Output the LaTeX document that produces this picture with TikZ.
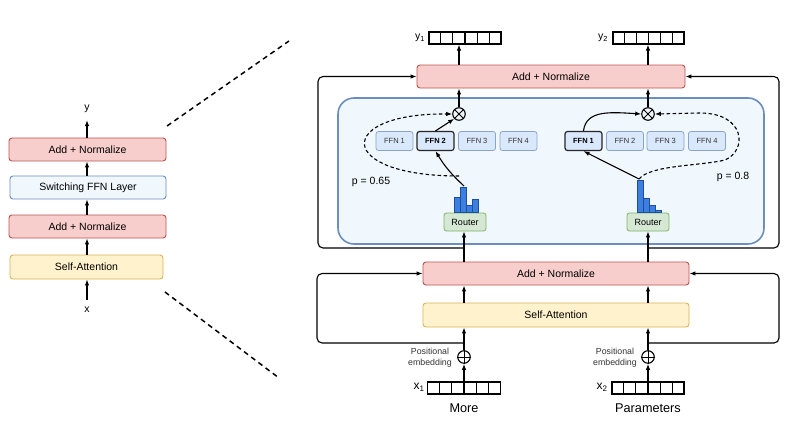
\documentclass[tikz,border=0pt]{standalone}
\usepackage{fontspec}
\setmainfont{Liberation Sans}
\usetikzlibrary{arrows.meta,calc}
\definecolor{redf}{HTML}{F8CECC}\definecolor{redb}{HTML}{B85450}
\definecolor{yelf}{HTML}{FFF2CC}\definecolor{yelb}{HTML}{D6B656}
\definecolor{bluf}{HTML}{DAE8FC}\definecolor{blub}{HTML}{6C8EBF}
\definecolor{grnf}{HTML}{D5E8D4}\definecolor{grnb}{HTML}{82B366}
\definecolor{contf}{HTML}{F0F7FD}\definecolor{barf}{HTML}{3D7FE0}\definecolor{barb}{HTML}{1E4F9C}
\tikzset{
  base/.style={rounded corners=3pt, inner sep=0pt, line width=0.9pt, font=\fontsize{10.5}{12}\selectfont},
  anbox/.style={base, fill=redf, draw=redb},
  sabox/.style={base, fill=yelf, draw=yelb},
  swbox/.style={base, fill=contf, draw=blub},
  ffnbox/.style={rounded corners=2.5pt, inner sep=0pt, line width=0.8pt, fill=bluf, draw=blub!80, minimum width=37, minimum height=19, font=\fontsize{7.5}{9}\selectfont\color{black!80}},
  ffnsel/.style={ffnbox, draw=black!85, line width=1.2pt, font=\fontsize{7.5}{9}\selectfont\bfseries},
  router/.style={rounded corners=2.5pt, inner sep=0pt, line width=0.8pt, fill=grnf, draw=grnb, minimum width=42, minimum height=18, font=\fontsize{9}{10}\selectfont},
  vecbox/.style={draw=black, line width=1.1pt, inner sep=0pt, minimum height=12},
  conn/.style={line width=1.1pt, -{Latex[length=6pt,width=4.5pt]}},
  line/.style={line width=1.1pt, rounded corners=5pt},
  dconn/.style={conn, dashed, dash pattern=on 3.5pt off 2.5pt},
  opc/.style={circle, draw, line width=1.1pt, minimum size=12.5, inner sep=0pt},
  lbl/.style={inner sep=0pt, font=\fontsize{10.5}{12}\selectfont},
}
\newcommand{\cells}[1]{\foreach \i in {1,...,5}{\draw[line width=1.1pt] ($(#1.north west)!\i/6!(#1.north east)$) -- ($(#1.south west)!\i/6!(#1.south east)$);}}
\newcommand{\otimesmark}[1]{\draw[line width=1pt] (#1.north west) -- (#1.south east) (#1.north east) -- (#1.south west);}
\newcommand{\oplusmark}[1]{\draw[line width=1pt] (#1.north) -- (#1.south) (#1.west) -- (#1.east);}
\begin{document}
\begin{tikzpicture}[x=1pt,y=-1pt]
\useasboundingbox (0,0) rectangle (800,431);
% ---------- left stack ----------
\node[anbox, minimum width=157, minimum height=23] (lan2) at (87.5,149.5) {Add + Normalize};
\node[swbox, minimum width=156, minimum height=23] (lsw) at (88,187.5) {Switching FFN Layer};
\node[anbox, minimum width=157, minimum height=23] (lan1) at (87.5,226.5) {Add + Normalize};
\node[sabox, minimum width=153, minimum height=24] (lsa) at (86.5,267) {Self-Attention};
\node[lbl] (ly) at (87,109) {y};
\node[lbl] (lx) at (87,310) {x};
\draw[conn] (lan2.north -| ly) -- ([yshift=-7pt]ly.south);
\draw[conn] (lsw.north -| ly) -- (lan2.south -| ly);
\draw[conn] (lan1.north -| ly) -- (lsw.south -| ly);
\draw[conn] (lsa.north -| ly) -- (lan1.south -| ly);
\draw[conn] ([yshift=7pt]lx.north) -- (lsa.south -| lx);
% zoom lines
\coordinate (z1a) at (167,126); \coordinate (z1b) at (289,41);
\coordinate (z2a) at (165,292); \coordinate (z2b) at (279,378);
\draw[line width=1.5pt, dash pattern=on 5pt off 4pt] (z1a) -- (z1b);
\draw[line width=1.5pt, dash pattern=on 5pt off 4pt] (z2a) -- (z2b);
% ---------- right ----------
\node[base, fill=contf, draw=blub, line width=1.6pt, rounded corners=16pt, minimum width=426, minimum height=146] (cont) at (551,171) {};
\node[anbox, minimum width=268, minimum height=23] (tan) at (551,76.5) {Add + Normalize};
\node[anbox, minimum width=266, minimum height=23] (ban) at (556,273.5) {Add + Normalize};
\node[sabox, minimum width=266, minimum height=24] (sa) at (556,315) {Self-Attention};
% output vectors
\node[vecbox, minimum width=72] (y1v) at (465,38) {}; \cells{y1v}
\node[vecbox, minimum width=71] (y2v) at (648.5,38) {}; \cells{y2v}
\node[lbl] (y1l) at (420,38) {y\textsubscript{1}};
\node[lbl] (y2l) at (603,38) {y\textsubscript{2}};
% input vectors
\node[vecbox, minimum width=73] (x1v) at (464,388) {}; \cells{x1v}
\node[vecbox, minimum width=72] (x2v) at (648,388) {}; \cells{x2v}
\node[inner sep=0pt, font=\fontsize{12}{14}\selectfont] (x1l) at (419,387) {x\textsubscript{1}};
\node[inner sep=0pt, font=\fontsize{12}{14}\selectfont] (x2l) at (602,387) {x\textsubscript{2}};
\node[inner sep=0pt, font=\fontsize{12.7}{14}\selectfont] (w1) at (464,408) {More};
\node[inner sep=0pt, font=\fontsize{12.7}{14}\selectfont] (w2) at (648,408) {Parameters};
% positional embedding
\node[opc] (p1) at (464,357) {}; \oplusmark{p1}
\node[opc] (p2) at (648,357) {}; \oplusmark{p2}
\node[inner sep=0pt, align=center, font=\fontsize{8.8}{11}\selectfont\color{black!80}] (pe1) at (430,358) {Positional\\embedding};
\node[inner sep=0pt, align=center, font=\fontsize{8.8}{11}\selectfont\color{black!80}] (pe2) at (615,358) {Positional\\embedding};
\draw[conn] (x1v.north -| p1) -- (p1.south);
\draw[conn] (x2v.north -| p2) -- (p2.south);
\draw[conn] (p1.north) -- (sa.south -| p1);
\draw[conn] (p2.north) -- (sa.south -| p2);
\draw[conn] (sa.north -| p1) -- (ban.south -| p1);
\draw[conn] (sa.north -| p2) -- (ban.south -| p2);
% residuals bottom
\coordinate (rb1) at (464,343); \coordinate (rb2) at (648,343);
\draw[line, -{Latex[length=6pt,width=4.5pt]}] (rb1) -- (317,343) -- (317,273.5) -- (ban.west);
\draw[line, -{Latex[length=6pt,width=4.5pt]}] (rb2) -- (779,343) -- (779,273.5) -- (ban.east);
% routers
\node[router] (r1) at (465,222) {Router};
\node[router] (r2) at (648,222) {Router};
\draw[conn] (ban.north -| p1) -- (r1.south -| p1);
\draw[conn] (ban.north -| p2) -- (r2.south -| p2);
% residuals top
\coordinate (rt1) at (464,248); \coordinate (rt2) at (648,248);
\draw[line, -{Latex[length=6pt,width=4.5pt]}] (rt1) -- (318,248) -- (318,76.5) -- (tan.west);
\draw[line, -{Latex[length=6pt,width=4.5pt]}] (rt2) -- (779,248) -- (779,76.5) -- (tan.east);
% histograms
\begin{scope}[fill=barf, draw=barb, line width=0.6pt]
\filldraw (454,212) rectangle (460,197);
\filldraw (460,212) rectangle (466,187);
\filldraw (466,212) rectangle (472,205);
\filldraw (472,212) rectangle (478,199);
\filldraw (637,212) rectangle (643,180);
\filldraw (643,212) rectangle (649,198);
\filldraw (649,212) rectangle (655,205);
\filldraw (655,212) rectangle (661,210);
\end{scope}
\coordinate (h1) at (464,186);
\coordinate (h1d) at (459,176);
\coordinate (h2) at (639,179);
% FFNs
\node[ffnbox] (f11) at (394.5,141) {FFN 1};
\node[ffnsel] (f12) at (435.5,141) {FFN 2};
\node[ffnbox] (f13) at (477,141) {FFN 3};
\node[ffnbox] (f14) at (518.5,141) {FFN 4};
\node[ffnsel] (f21) at (583.5,141) {FFN 1};
\node[ffnbox] (f22) at (625,141) {FFN 2};
\node[ffnbox] (f23) at (665.5,141) {FFN 3};
\node[ffnbox] (f24) at (707,141) {FFN 4};
% combine
\node[opc] (o1) at (459,114) {}; \otimesmark{o1}
\node[opc] (o2) at (648,114) {}; \otimesmark{o2}
\draw[conn] (o1.north) -- (tan.south -| o1);
\draw[conn] (o2.north) -- (tan.south -| o2);
\draw[conn] (tan.north -| o1) -- (y1v.south -| o1);
\draw[conn] (tan.north -| o2) -- (y2v.south -| o2);
% routing arrows
\draw[conn] (h1) to[bend left=8] (f12.south);
\draw[conn] (f12.north) -- (o1.south west);
\draw[dconn] (h1d) .. controls (335,176) and (335,113) .. (o1.west);
\node[lbl] (pl1) at (371,182) {p = 0.65};
\draw[conn] (h2) -- (f21.south);
\draw[conn] (f21.north) .. controls (586,110) and (610,112) .. (o2.west);
\draw[dconn] (h2) .. controls (650,165) and (700,166) .. (725,160) .. controls (748,150) and (745,113) .. (700,113) -- (o2.east);
\node[lbl] (pl2) at (733,177) {p = 0.8};
\end{tikzpicture}
\end{document}
